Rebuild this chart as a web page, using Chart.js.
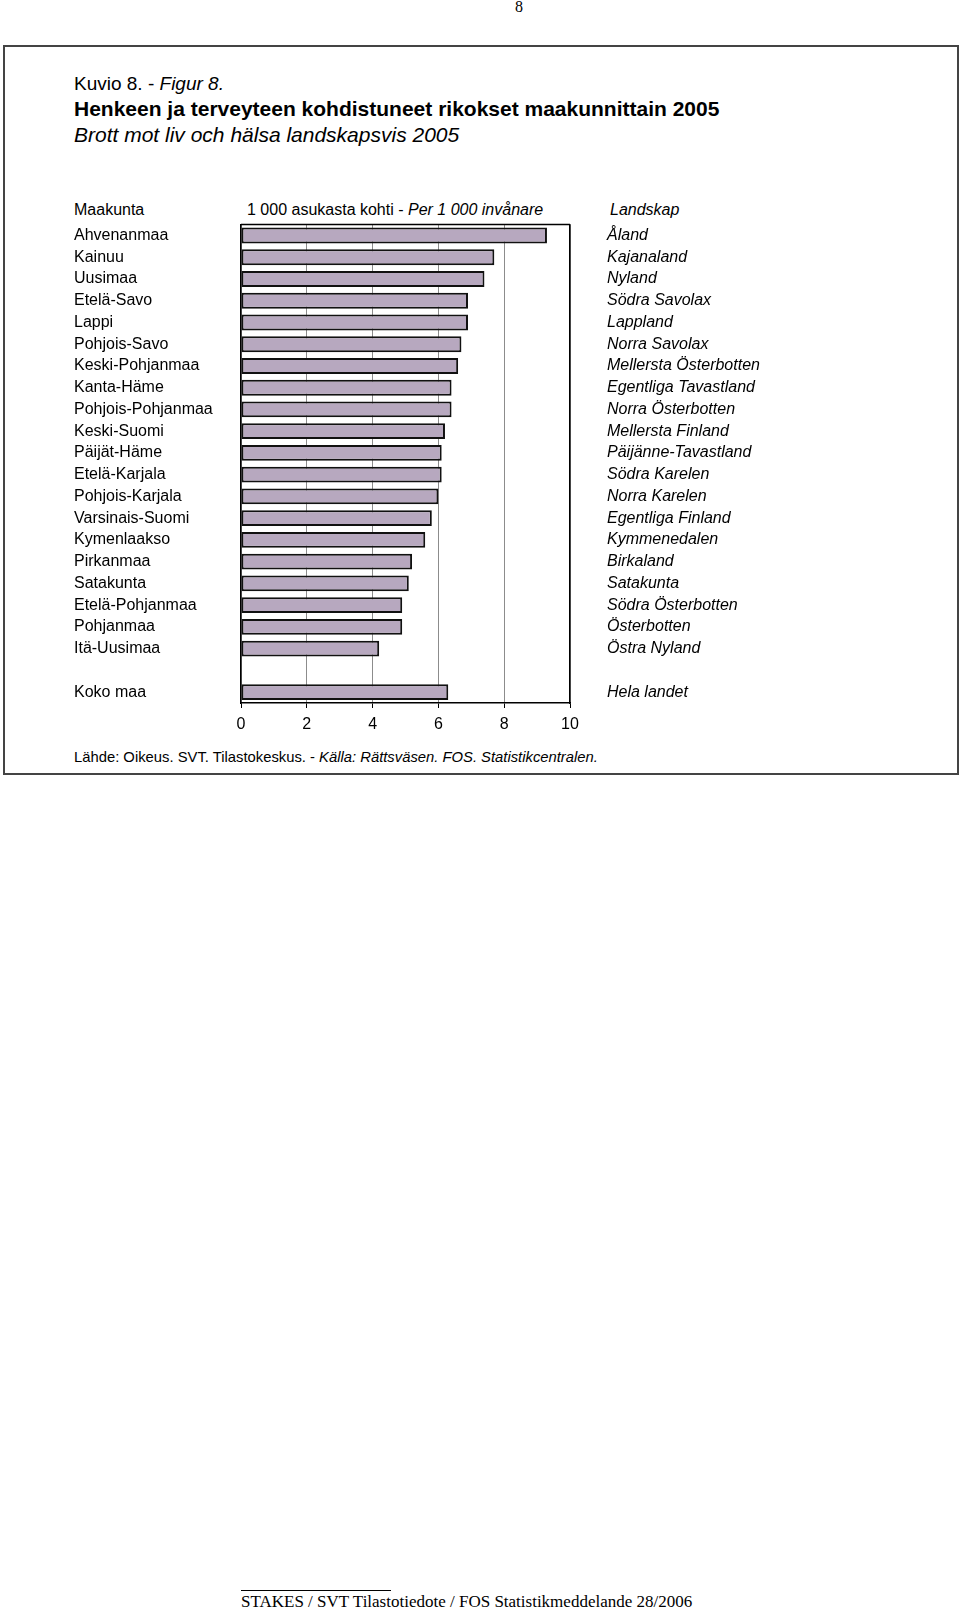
<!DOCTYPE html>
<html>
<head>
<meta charset="utf-8">
<script src="https://cdn.jsdelivr.net/npm/chart.js@4.4.1/dist/chart.umd.min.js"></script>
<style>
  body { margin: 0; background: #fff; font-family: "Liberation Sans", Arial, sans-serif; color: #000; }
  #page { position: relative; width: 960px; height: 1612px; overflow: hidden; }
  .t { position: absolute; white-space: nowrap; line-height: 22px; }
  .i { font-style: italic; }
  #frame { position: absolute; left: 3px; top: 45px; width: 956px; height: 730px; border: 2px solid #444; box-sizing: border-box; }
  #wrap { position: absolute; left: 74px; top: 215px; }
  .serif { font-family: "Liberation Serif", "Times New Roman", serif; }
</style>
</head>
<body>
<div id="page">
  <div class="t serif" style="left:515px; top:-4px; font-size:16px;">8</div>
  <div id="frame"></div>

  <div class="t" style="left:74px; top:73px; font-size:19px;">Kuvio 8. - <span class="i">Figur 8.</span></div>
  <div class="t" style="left:74px; top:98px; font-size:21px; font-weight:bold;">Henkeen ja terveyteen kohdistuneet rikokset maakunnittain 2005</div>
  <div class="t i" style="left:74px; top:124px; font-size:21px;">Brott mot liv och hälsa landskapsvis 2005</div>

  <div class="t" style="left:74px; top:199px; font-size:16px;">Maakunta</div>
  <div class="t" style="left:247px; top:199px; font-size:16px;">1 000 asukasta kohti - <span class="i">Per 1 000 invånare</span></div>
  <div class="t i" style="left:610px; top:199px; font-size:16px;">Landskap</div>

  <div id="wrap"><canvas id="chart" width="760" height="520"></canvas></div>

  <div class="t" style="left:74px; top:746px; font-size:14.8px;">Lähde: Oikeus. SVT. Tilastokeskus. - <span class="i">Källa: Rättsväsen. FOS. Statistikcentralen.</span></div>

  <div style="position:absolute; left:241px; top:1590px; width:150px; height:1px; background:#000;"></div>
  <div class="t serif" style="left:241px; top:1591px; font-size:17px;">STAKES / SVT Tilastotiedote / FOS Statistikmeddelande 28/2006</div>
</div>

<script>
// Maakunnat (fi) ja landskap (sv), tyhjä rivi ennen koko maata
const maakunnat = ['Ahvenanmaa', 'Kainuu', 'Uusimaa', 'Etelä-Savo', 'Lappi', 'Pohjois-Savo',
  'Keski-Pohjanmaa', 'Kanta-Häme', 'Pohjois-Pohjanmaa', 'Keski-Suomi', 'Päijät-Häme',
  'Etelä-Karjala', 'Pohjois-Karjala', 'Varsinais-Suomi', 'Kymenlaakso', 'Pirkanmaa',
  'Satakunta', 'Etelä-Pohjanmaa', 'Pohjanmaa', 'Itä-Uusimaa', '', 'Koko maa'];
const landskap = ['Åland', 'Kajanaland', 'Nyland', 'Södra Savolax', 'Lappland', 'Norra Savolax',
  'Mellersta Österbotten', 'Egentliga Tavastland', 'Norra Österbotten', 'Mellersta Finland',
  'Päijänne-Tavastland', 'Södra Karelen', 'Norra Karelen', 'Egentliga Finland', 'Kymmenedalen',
  'Birkaland', 'Satakunta', 'Södra Österbotten', 'Österbotten', 'Östra Nyland', '', 'Hela landet'];
const rikokset = [9.3, 7.7, 7.4, 6.9, 6.9, 6.7, 6.6, 6.4, 6.4, 6.2, 6.1, 6.1, 6.0, 5.8, 5.6,
  5.2, 5.1, 4.9, 4.9, 4.2, null, 6.3];
const xMin = 0, xMax = 10, xStep = 2;

Chart.defaults.font.family = '"Liberation Sans", Arial, sans-serif';
Chart.defaults.font.size = 16;
Chart.defaults.color = '#000';

const topBorder = {
  id: 'topBorder',
  afterDraw(chart) {
    const a = chart.chartArea;
    const c = chart.ctx;
    c.save();
    c.strokeStyle = '#000';
    c.lineWidth = 1.5;
    c.beginPath();
    c.moveTo(a.left, a.top);
    c.lineTo(a.right, a.top);
    c.stroke();
    c.restore();
  }
};

const ctx = document.getElementById('chart').getContext('2d');
new Chart(ctx, {
  type: 'bar',
  data: {
    labels: maakunnat,
    datasets: [{
      data: rikokset,
      backgroundColor: '#b7a8bf',
      borderColor: '#111',
      borderWidth: 2,
      borderSkipped: false,
      barPercentage: 0.73,
      categoryPercentage: 1,
      yAxisID: 'y'
    }]
  },
  options: {
    indexAxis: 'y',
    responsive: false,
    animation: false,
    devicePixelRatio: 1,
    layout: { padding: { top: 9, left: 0, right: 0, bottom: 0 } },
    plugins: { legend: { display: false }, tooltip: { enabled: false } },
    scales: {
      x: {
        type: 'linear',
        min: xMin,
        max: xMax,
        z: 1,
        ticks: { stepSize: xStep, padding: 7, color: '#000' },
        grid: { color: 'rgba(0,0,0,0.45)', tickColor: '#000', tickLength: 5 },
        border: { color: '#000', width: 1.5 },
        afterFit(s) { s.height = 32; }
      },
      y: {
        position: 'left',
        grid: { display: false },
        border: { color: '#000', width: 1.5 },
        ticks: { crossAlign: 'far', autoSkip: false, padding: 0, color: '#000' },
        afterFit(s) { s.width = 167; }
      },
      y2: {
        type: 'category',
        labels: landskap,
        position: 'right',
        offset: true,
        grid: { display: false, drawTicks: true, tickLength: 37 },
        border: { color: '#000', width: 1.5 },
        ticks: { autoSkip: false, padding: 0, color: '#000', font: { style: 'italic' } },
        afterFit(s) { s.width = 264; }
      }
    }
  },
  plugins: [topBorder]
});
</script>
</body>
</html>
